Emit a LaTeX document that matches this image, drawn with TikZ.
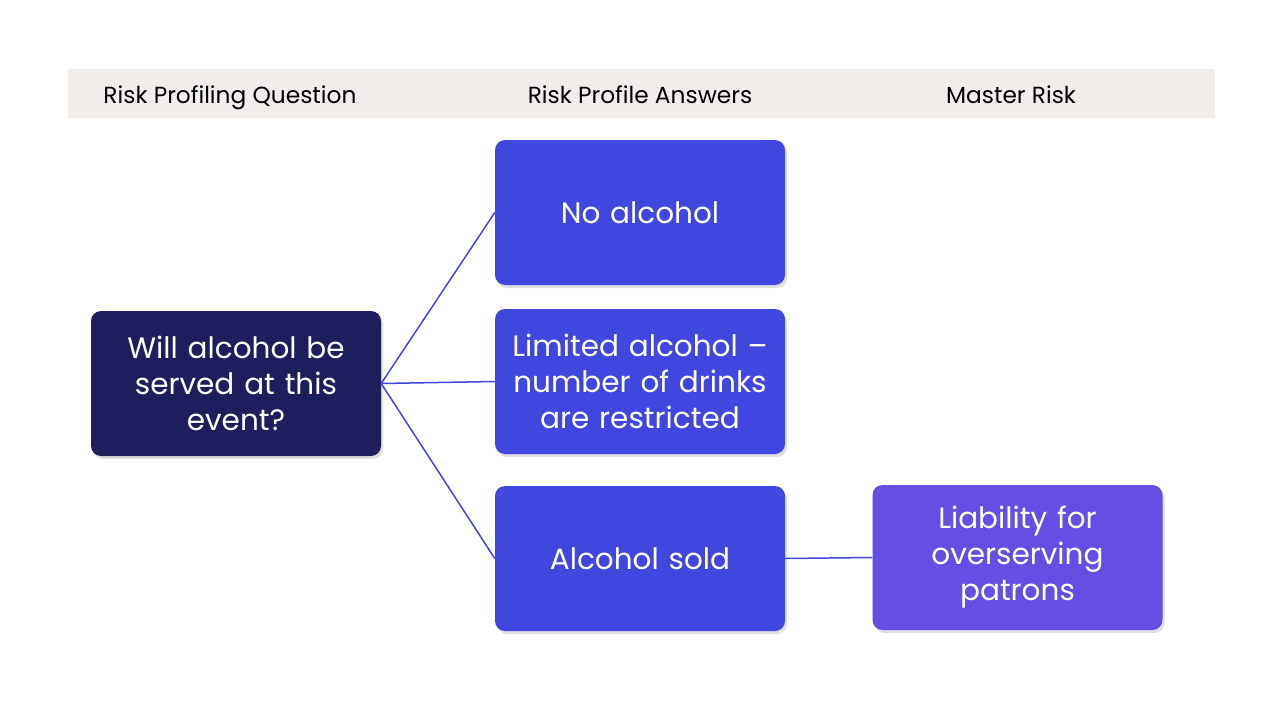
\documentclass[tikz,border=0pt]{standalone}
\usepackage{fontspec}
\setmainfont{Poppins}
\usetikzlibrary{shadows}
\definecolor{band}{HTML}{F0EDEA}
\definecolor{qdark}{HTML}{1E1E5E}
\definecolor{ablue}{HTML}{4146DF}
\definecolor{mpurple}{HTML}{654EE3}
\tikzset{
  box/.style={rounded corners=10pt, minimum width=290pt, minimum height=145pt, text width=280pt, align=center, text=white,
    font=\fontsize{29.5}{36}\selectfont, inner sep=0pt,
    drop shadow={shadow xshift=2pt, shadow yshift=-3pt, opacity=0.25}},
  hdr/.style={font=\fontsize{23.3}{27}\selectfont, text=black, anchor=base},
  link/.style={draw=ablue, line width=1.5pt}
}
\begin{document}
\begin{tikzpicture}[x=1pt,y=-1pt]
\useasboundingbox[fill=white] (0,0) rectangle (1280,720);
\fill[band] (68,69) rectangle (1215,118);
\node[hdr] (h1) at (230,103.5) {Risk Profiling Question};
\node[hdr] (h2) at (640,103.5) {Risk Profile Answers};
\node[hdr] (h3) at (1011,103.5) {Master Risk};
\node[box, fill=qdark] (q) at (236,383.5) {Will alcohol be\\served at this\\event?};
\node[box, fill=ablue] (a1) at (640,212.5) {No alcohol};
\node[box, fill=ablue] (a2) at (640,381.5) {Limited alcohol –\\number of drinks\\are restricted};
\node[box, fill=ablue] (a3) at (640,558.5) {Alcohol sold};
\node[box, fill=mpurple] (m) at (1017.5,557.5) {Liability for\\overserving\\patrons};
\draw[link] (q.east) -- (a1.west);
\draw[link] (q.east) -- (a2.west);
\draw[link] (q.east) -- (a3.west);
\draw[link] (a3.east) -- (m.west);
\end{tikzpicture}
\end{document}
